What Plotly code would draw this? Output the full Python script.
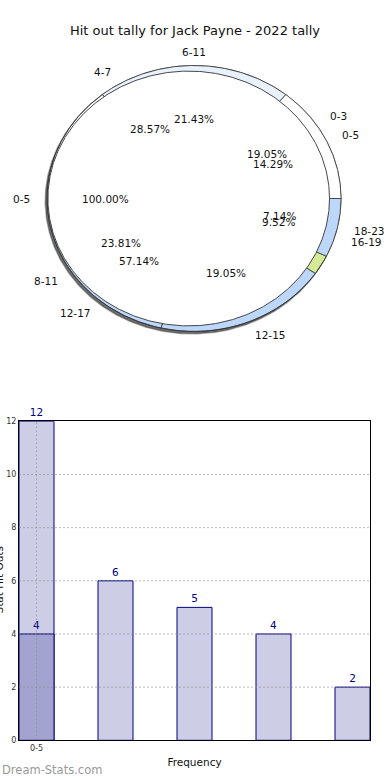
import numpy as np
import plotly.graph_objects as go

# ---------------- data ----------------
title_text = "Hit out tally for Jack Payne - 2022 tally"

pie_all_labels = ["0-5"]
pie_all_values = [21]

pie4_labels = ["0-3", "4-7", "8-11", "12-15", "16-19"]
pie4_values = [4, 6, 5, 4, 2]

pie6_labels = ["0-5", "6-11", "12-17", "18-23"]
pie6_values = [2, 3, 8, 1]

bar_ticks = ["0-5"]
bar_values = [12, 6, 5, 4, 2]
bar_highlight = [4]
y_ticks = [0, 2, 4, 6, 8, 10, 12]

# ---------------- styles ----------------
pie4_colors = ["#ffffff", "#ffffff", "#bcd7f9", "#bcd7f9", "#d4ea96"]
pie6_colors = ["#ffffff", "#e9f1fd", "rgba(0,0,0,0)", "#bcd7f9"]
edge = "#333333"
FONT = "DejaVu Sans"

fig = go.Figure()


def arc_pts(a0, a1, r, cx=0.0, cy=0.0):
    n = max(3, int(abs(a1 - a0) / 0.5) + 1)
    t = np.radians(np.linspace(a0, a1, n))
    return cx + r * np.cos(t), cy + r * np.sin(t)


def add_wedges(values, colors, r=1.0, cx=0.0, cy=0.0, lw=0.8):
    tot = float(sum(values))
    start = 0.0
    for v, c in zip(values, colors):
        a1 = start + 360.0 * v / tot
        ax, ay = arc_pts(start, a1, r, cx, cy)
        xs = np.concatenate([[cx], ax, [cx]])
        ys = np.concatenate([[cy], ay, [cy]])
        fig.add_trace(go.Scatter(x=xs, y=ys, mode="lines", fill="toself",
                                 fillcolor=c, line=dict(color=edge, width=lw),
                                 hoverinfo="skip", showlegend=False,
                                 xaxis="x2", yaxis="y2"))
        start = a1


def add_texts(labels, values):
    tot = float(sum(values))
    start = 0.0
    for lab, v in zip(labels, values):
        a1 = start + 360.0 * v / tot
        mid = np.radians((start + a1) / 2)
        c, s = np.cos(mid), np.sin(mid)
        anchor = "center" if abs(c) < 0.05 else ("left" if c > 0 else "right")
        fig.add_annotation(x=1.1 * c, y=1.1 * s, xref="x2", yref="y2", text=lab,
                           showarrow=False, xanchor=anchor, yanchor="middle",
                           font=dict(family=FONT, size=10.5, color="#111"))
        fig.add_annotation(x=0.6 * c, y=0.6 * s, xref="x2", yref="y2",
                           text="%.2f%%" % (100.0 * v / tot),
                           showarrow=False, xanchor="center", yanchor="middle",
                           font=dict(family=FONT, size=10.5, color="#111"))
        start = a1


# shadow
sx, sy = arc_pts(0, 360, 1.0, -0.012, -0.018)
fig.add_trace(go.Scatter(x=sx, y=sy, mode="lines", fill="toself",
                         fillcolor="rgba(60,60,60,0.75)",
                         line=dict(color="rgba(60,60,60,0.4)", width=1.5),
                         hoverinfo="skip", showlegend=False, xaxis="x2", yaxis="y2"))
add_wedges(pie4_values, pie4_colors, r=1.0)
add_wedges(pie6_values, pie6_colors, r=1.0)
# inner full pie (single 100% wedge)
ix, iy = arc_pts(0, 360, 0.958, -0.036, 0.0)
fig.add_trace(go.Scatter(x=ix, y=iy, mode="lines", fill="toself", fillcolor="#ffffff",
                         line=dict(color=edge, width=0.9), hoverinfo="skip",
                         showlegend=False, xaxis="x2", yaxis="y2"))

add_texts(pie_all_labels, pie_all_values)
add_texts(pie4_labels, pie4_values)
add_texts(pie6_labels, pie6_values)

# ---------------- bar chart ----------------
xpos = list(range(len(bar_values)))
bw = 0.443
fig.add_trace(go.Bar(x=xpos, y=bar_values, width=bw,
                     marker=dict(color="#cdcde6", line=dict(color="#000080", width=1)),
                     text=[str(v) for v in bar_values], textposition="outside",
                     textfont=dict(family=FONT, size=10.5, color="#000080"),
                     cliponaxis=False, hoverinfo="skip", showlegend=False))
fig.add_trace(go.Bar(x=xpos[:len(bar_highlight)], y=bar_highlight, width=bw,
                     marker=dict(color="#a3a3cf", line=dict(color="#000080", width=1)),
                     text=[str(v) for v in bar_highlight], textposition="outside",
                     textfont=dict(family=FONT, size=10.5, color="#000080"),
                     cliponaxis=False, hoverinfo="skip", showlegend=False))

# dotted grid drawn above the bars (as in the reference)
for yv in y_ticks[1:-1]:
    fig.add_shape(type="line", xref="x domain", yref="y", x0=0, x1=1, y0=yv, y1=yv,
                  line=dict(color="rgba(140,140,140,0.6)", width=1, dash="2px,2px"),
                  layer="above")
fig.add_shape(type="line", xref="x", yref="y domain", x0=0, x1=0, y0=0, y1=1,
              line=dict(color="rgba(140,140,140,0.6)", width=1, dash="2px,2px"),
              layer="above")

W, H = 390, 780
axstyle = dict(showgrid=False, showline=True, mirror=True, linecolor="black", linewidth=1,
               zeroline=False, ticks="", fixedrange=True,
               tickfont=dict(size=8, color="#333"), automargin=False)
fig.update_layout(
    width=W, height=H, margin=dict(l=0, r=0, t=0, b=0, autoexpand=False),
    paper_bgcolor="white", plot_bgcolor="white",
    barmode="overlay",
    font=dict(family=FONT, size=10, color="#111"),
    title=dict(text=title_text, x=0.5, xanchor="center", y=1 - 30 / H, yanchor="middle",
               font=dict(family=FONT, size=13, color="#111")),
    xaxis=dict(domain=[19 / W, 370 / W], range=[-bw / 2, 4 + bw / 2], anchor="y",
               tickvals=[0], ticktext=bar_ticks,
               title=dict(text="Frequency", font=dict(size=10.5, color="#111"), standoff=6),
               **axstyle),
    yaxis=dict(domain=[(H - 740.3) / H, (H - 421.3) / H], range=[0, 12],
               tickvals=y_ticks, anchor="x", **axstyle),
    xaxis2=dict(domain=[0, 1], range=[-194 / 147, (W - 194) / 147], visible=False,
                anchor="y2", fixedrange=True),
    yaxis2=dict(domain=[0.5, 1], range=[-(390 - 198.5) / 133, 198.5 / 133], visible=False,
                anchor="x2", fixedrange=True),
)

# y-axis title (mostly cut off at the left edge in the reference)
fig.add_annotation(x=-1.5 / W, y=(H - 580) / H, xref="paper", yref="paper",
                   text="Stat Hit Outs", textangle=-90, showarrow=False,
                   xanchor="center", yanchor="middle",
                   font=dict(family=FONT, size=10.5, color="#111"))
fig.add_annotation(x=0, y=(H - 770) / H, xref="paper", yref="paper",
                   text="Dream-Stats.com", showarrow=False,
                   xanchor="left", yanchor="middle",
                   font=dict(family=FONT, size=11.5, color="#999999"))

fig.write_html("out.html", config={"displayModeBar": False},
               post_script="document.body.style.margin='0';document.body.style.overflow='hidden';")
